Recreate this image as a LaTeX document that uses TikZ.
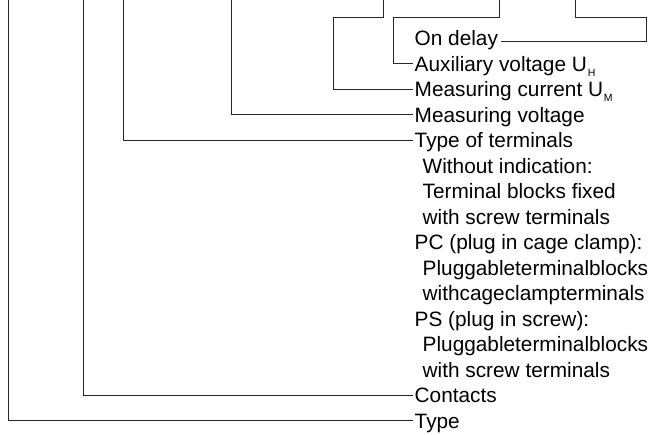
\documentclass[tikz,border=0pt]{standalone}
\usepackage{fontspec}
\setmainfont{Liberation Sans}
% small lowered index letter, as in U_H
\newcommand{\lowidx}[1]{\kern0.8pt\raisebox{-5pt}{\fontsize{10.5}{10.5}\selectfont #1}}
\tikzset{
  lbl/.style={anchor=west, inner xsep=1.5pt, inner ysep=0pt, text height=15pt, text depth=0pt,
              font=\fontsize{20.8}{24}\selectfont},
  lead/.style={black!85, line width=1pt},
}
\begin{document}
\begin{tikzpicture}[x=1pt,y=-1pt]
  \useasboundingbox (0,0) rectangle (648,434);
  % labels, one row every 25.5
  \node [lbl] (ondelay)  at (413,38)    {On delay};
  \node [lbl] (auxvolt)  at (413,63.5)  {Auxiliary voltage U\lowidx{H}};
  \node [lbl] (meascur)  at (413,89)    {Measuring current U\lowidx{M}};
  \node [lbl] (measvolt) at (413,114.5) {Measuring voltage};
  \node [lbl] (termtype) at (413,140)   {Type of terminals};
  \node [lbl] (woind)    at (421,165.5) {Without indication:};
  \node [lbl] (tbfixed)  at (421,191)   {Terminal blocks fixed};
  \node [lbl] (wscrewa)  at (421,216.5) {with screw terminals};
  \node [lbl] (pc)       at (413,242)   {PC (plug in cage clamp):};
  \node [lbl] (plugtba)  at (421,267.5) {Pluggableterminalblocks};
  \node [lbl] (wcage)    at (421,293)   {withcageclampterminals};
  \node [lbl] (ps)       at (413,318.5) {PS (plug in screw):};
  \node [lbl] (plugtbb)  at (421,344)   {Pluggableterminalblocks};
  \node [lbl] (wscrewb)  at (421,369.5) {with screw terminals};
  \node [lbl] (contacts) at (413,395)   {Contacts};
  \node [lbl] (type)     at (413,420.5) {Type};
  % leads from the order code above
  \draw [lead] (8,0)   |- (type.west);
  \draw [lead] (83,0)  |- (contacts.west);
  \draw [lead] (123,0) |- (termtype.west);
  \draw [lead] (231,0) |- (measvolt.west);
  \draw [lead] (383,0) |- (333,17) |- (meascur.west);
  \draw [lead] (499,0) |- (393,17) |- (auxvolt.west);
  \draw [lead] (575,0) |- (646.5,17) |- ([xshift=1pt,yshift=-3pt]ondelay.east);
\end{tikzpicture}
\end{document}
